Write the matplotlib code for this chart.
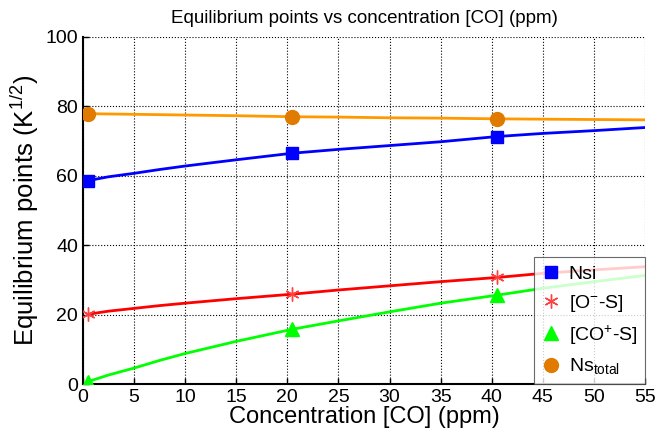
import matplotlib
matplotlib.use('Agg')
import matplotlib.pyplot as plt

plt.rcParams['font.family'] = ['Liberation Sans', 'DejaVu Sans']
plt.rcParams['mathtext.fontset'] = 'custom'
plt.rcParams['mathtext.rm'] = 'Liberation Sans'
plt.rcParams['mathtext.it'] = 'Liberation Sans'

## curve samples
x_curve = [0.5, 2.5, 5, 7.5, 10, 15, 20.5, 25, 30, 35, 40.5, 45, 50, 55]
nsi_curve = [58.6, 59.7, 60.7, 61.8, 62.8, 64.6, 66.5, 67.6, 68.7, 69.8, 71.3, 72.2, 73.0, 73.9]
o_curve = [20.1, 21.0, 21.8, 22.6, 23.3, 24.6, 25.9, 27.1, 28.3, 29.5, 30.7, 31.9, 32.9, 33.8]
co_curve = [0.7, 2.6, 4.6, 6.8, 8.8, 12.3, 15.8, 18.2, 20.8, 23.3, 25.6, 27.6, 29.5, 31.3]
ns_curve = [77.9, 77.8, 77.7, 77.6, 77.5, 77.3, 77.0, 76.9, 76.7, 76.6, 76.4, 76.3, 76.2, 76.1]

## marker points
x_pts = [0.5, 20.5, 40.5]
nsi_pts = [58.6, 66.5, 71.3]
o_pts = [20.1, 25.9, 30.7]
co_pts = [0.7, 15.8, 25.6]
ns_pts = [77.9, 77.0, 76.4]

xticks = list(range(0, 56, 5))
yticks = [0, 20, 40, 60, 80, 100]

fig = plt.figure(figsize=(6.57, 4.34), dpi=100)
ax = fig.add_axes([0.126, 0.115, 0.856, 0.80])

##draw lines
ax.plot(x_curve, ns_curve, '-', color='#FF9900', lw=2, zorder=3)
ax.plot(x_curve, nsi_curve, '-', color='#0000FF', lw=2, zorder=3)
ax.plot(x_curve, o_curve, '-', color='#FF0000', lw=2, zorder=3)
ax.plot(x_curve, co_curve, '-', color='#00FF00', lw=2, zorder=3)

##draw markers
ax.plot(x_pts, nsi_pts, 's', color='#0000FF', ms=8, ls='none', label='Nsi', zorder=4)
ax.plot(x_pts, o_pts, marker=(6, 2, 0), color='#FF4040', mec='#FF4040', ms=10, mew=1,
        ls='none', label='[O$^{-}$-S]', zorder=4)
ax.plot(x_pts, co_pts, '^', color='#00FF00', ms=10, ls='none', label='[CO$^{+}$-S]', zorder=4)
ax.plot(x_pts, ns_pts, 'o', color='#E07B00', ms=10, ls='none', label='Ns$_{total}$', zorder=4)

ax.set_xlim(0, 55)
ax.set_ylim(0, 100)
ax.set_xticks(xticks)
ax.set_yticks(yticks)
ax.tick_params(labelsize=14, direction='in', length=4, width=1)
ax.grid(True, linestyle=':', color='black', lw=0.8)
for s in ['top', 'right']:
    ax.spines[s].set_visible(False)
for s in ['left', 'bottom']:
    ax.spines[s].set_linewidth(1.5)

ax.set_xlabel('Concentration [CO] (ppm)', fontsize=17, labelpad=0)
ax.set_ylabel('Equilibrium points (K$^{1/2}$)', fontsize=18.5)
ax.yaxis.set_label_coords(-0.075, 0.5)
ax.set_title('Equilibrium points vs concentration [CO] (ppm)', fontsize=13.5, pad=10)

leg = ax.legend(loc='lower right', fontsize=14, frameon=True, fancybox=False,
                edgecolor='#444444', borderaxespad=0, handletextpad=0.4,
                borderpad=0.4, labelspacing=0.5, handlelength=1.0)
leg.get_frame().set_linewidth(0.8)
leg.set_zorder(10)

plt.savefig('out.png', dpi=100)
plt.close()
